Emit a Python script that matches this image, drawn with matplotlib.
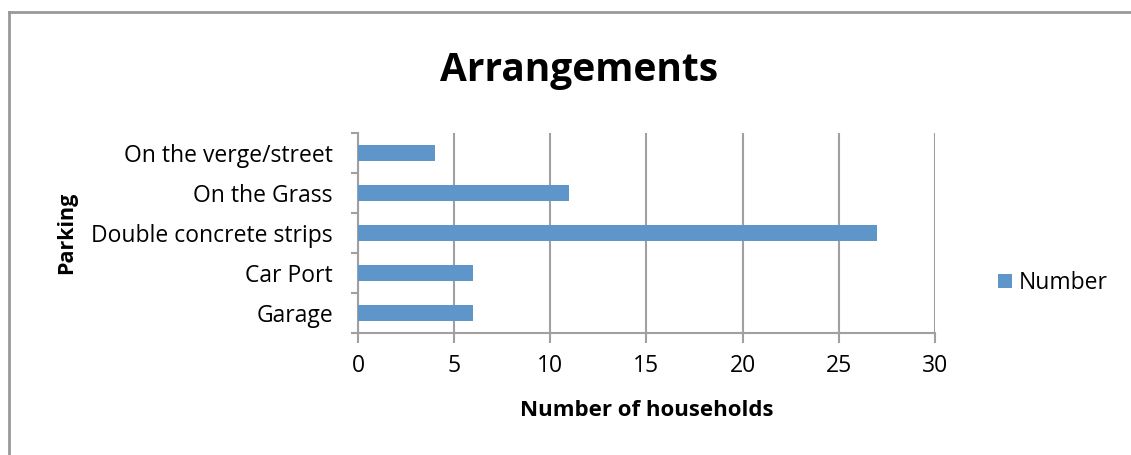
import numpy as np
import matplotlib.pyplot as plt
from matplotlib.lines import Line2D

plt.rcParams['font.family'] = ['Open Sans', 'DejaVu Sans']

# data
categories = ['Garage', 'Car Port', 'Double concrete strips', 'On the Grass', 'On the verge/street']
number = [6, 6, 27, 11, 4]
xticks = [0, 5, 10, 15, 20, 25, 30]

bar_color = '#5f96c9'
grid_color = '#a0a0a0'

fig = plt.figure(figsize=(11.31, 4.55), dpi=100)
ax = fig.add_axes([0.3165, 0.268, 0.51, 0.4395])

y = np.arange(len(categories))
ax.barh(y, number, height=0.4, color=bar_color, label='Number', zorder=3)

ax.set_xlim(0, 30)
ax.set_ylim(-0.5, len(categories) - 0.5)
ax.set_xticks(xticks)
ax.set_yticks(y)
ax.set_yticklabels(categories)
ax.set_yticks(np.arange(-0.5, len(categories)), minor=True)
ax.tick_params(axis='y', which='major', length=0, pad=18, labelsize=16.5)
ax.tick_params(axis='y', which='minor', length=5, width=1.5, color=grid_color)
ax.tick_params(axis='x', length=7, width=1.5, color=grid_color, labelsize=16.5, pad=8)
ax.grid(axis='x', color=grid_color, linewidth=1.5, zorder=0)

for s in ['top', 'right']:
    ax.spines[s].set_visible(False)
for s in ['left', 'bottom']:
    ax.spines[s].set_color(grid_color)
    ax.spines[s].set_linewidth(1.5)

ax.set_xlabel('Number of households', fontsize=16, fontweight='bold', labelpad=16)
ax.set_ylabel('Parking', fontsize=15.5, fontweight='bold')
ax.yaxis.set_label_coords(-0.487, 0.5)
fig.text(0.512, 0.845, 'Arrangements', fontsize=28, fontweight='bold', ha='center', va='center')

fig.legend(loc='center left', bbox_to_anchor=(0.864, 0.378), frameon=False,
           fontsize=16.5, handlelength=0.6, handleheight=0.6, handletextpad=0.3)

# outer chart border (left and top only visible)
fig.add_artist(Line2D([0.008, 0.008], [0, 0.974], color='#999999', linewidth=2, transform=fig.transFigure))
fig.add_artist(Line2D([0.008, 1], [0.974, 0.974], color='#999999', linewidth=2, transform=fig.transFigure))

fig.savefig('out.png', dpi=100)
